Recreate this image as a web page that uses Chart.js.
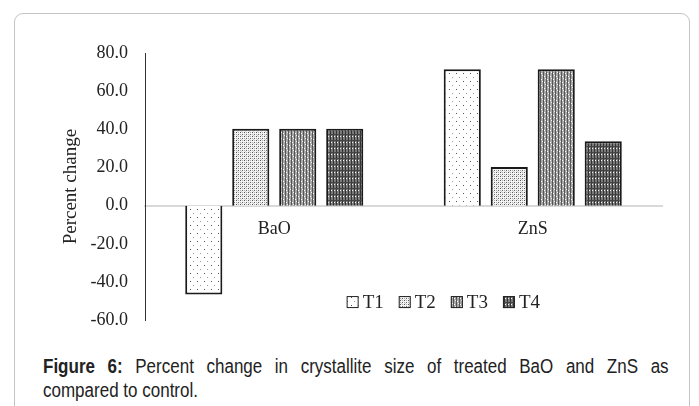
<!DOCTYPE html>
<html>
<head>
<meta charset="utf-8">
<script src="https://cdn.jsdelivr.net/npm/chart.js@4"></script>
<style>
  body { margin: 0; background: #fff; }
  #frame {
    position: absolute; left: 14px; top: 13px; width: 674px; height: 420px;
    border: 1px solid #c4c4c4; border-radius: 9px;
  }
  #wrap { position: absolute; left: 0; top: 0; width: 699px; height: 348px; }
  #caption {
    position: absolute; left: 43px; top: 354px; width: 736px;
    transform: scaleX(0.85); transform-origin: 0 0;
    font-family: "Liberation Sans", Arial, sans-serif;
    font-size: 20px; line-height: 24px; color: #222;
  }
  #caption .l1 { display: block; text-align: justify; text-align-last: justify; }
  #caption .l2 { display: block; }
</style>
</head>
<body>
<div id="frame"></div>
<div id="wrap"><canvas id="chart" width="699" height="348"></canvas></div>
<div id="caption"><span class="l1"><b>Figure 6:</b> Percent change in crystallite size of treated BaO and ZnS as</span><span class="l2">compared to control.</span></div>

<script>
// ---- DATA ----
const categories = ['BaO', 'ZnS'];
const seriesNames = ['T1', 'T2', 'T3', 'T4'];
const t1Values = [-46.5, 71.5];
const t2Values = [40.3, 20.3];
const t3Values = [40.3, 71.5];
const t4Values = [40.3, 33.8];
const yMin = -60;
const yMax = 80;
const yStep = 20;

// ---- PATTERNS ----
function makePattern(w, h, draw) {
  const c = document.createElement('canvas');
  c.width = w;
  c.height = h;
  const g = c.getContext('2d');
  draw(g);
  return g.createPattern(c, 'repeat');
}

function px(g, color, x, y) {
  g.fillStyle = color;
  g.fillRect(x, y, 1, 1);
}

// sparse dots
const patT1 = makePattern(7, 8, g => {
  g.fillStyle = '#fff'; g.fillRect(0, 0, 7, 8);
  px(g, '#555', 1, 1);
  px(g, '#999', 4, 5);
});

// fine stipple
const patT2 = makePattern(4, 4, g => {
  g.fillStyle = '#f4f4f4'; g.fillRect(0, 0, 4, 4);
  px(g, '#555', 0, 0);
  px(g, '#666', 2, 2);
  px(g, '#aaa', 2, 0);
  px(g, '#aaa', 0, 2);
  px(g, '#ccc', 1, 3);
});

// medium gray checker
const patT3 = makePattern(6, 6, g => {
  g.fillStyle = '#a8a8a8'; g.fillRect(0, 0, 6, 6);
  g.fillStyle = '#555'; g.fillRect(0, 0, 1, 6); g.fillRect(3, 0, 1, 6);
  px(g, '#fff', 1, 1); px(g, '#fff', 4, 4);
  px(g, '#eee', 2, 3); px(g, '#eee', 5, 0);
});

// darker plaid
const patT4 = makePattern(6, 6, g => {
  g.fillStyle = '#7a7a7a'; g.fillRect(0, 0, 6, 6);
  g.fillStyle = '#333'; g.fillRect(0, 0, 1, 6); g.fillRect(3, 0, 1, 6);
  g.fillStyle = '#444'; g.fillRect(0, 2, 6, 1);
  px(g, '#fff', 1, 4); px(g, '#eee', 4, 4);
});

const seriesValues = [t1Values, t2Values, t3Values, t4Values];
const seriesFills = [patT1, patT2, patT3, patT4];

const serif = '"Liberation Serif", "Times New Roman", serif';

// ---- LEGEND (inside plot area) ----
const innerLegend = {
  id: 'innerLegend',
  afterDraw(chart) {
    const ctx = chart.ctx;
    const area = chart.chartArea;
    const yScale = chart.scales.y;
    ctx.save();
    ctx.font = '19px ' + serif;
    ctx.textBaseline = 'middle';
    let x = area.left + (area.right - area.left) * 0.39;
    const cy = yScale.getPixelForValue(-50.5);
    chart.data.datasets.forEach(ds => {
      ctx.fillStyle = ds.backgroundColor;
      ctx.fillRect(x, cy - 6, 12, 12);
      ctx.strokeStyle = '#222';
      ctx.lineWidth = 1;
      ctx.strokeRect(x + 0.5, cy - 5.5, 11, 11);
      ctx.fillStyle = '#222';
      ctx.fillText(ds.label, x + 16, cy + 1);
      x += 16 + ctx.measureText(ds.label).width + 15;
    });
    ctx.restore();
  }
};

// ---- CHART ----
new Chart(document.getElementById('chart'), {
  type: 'bar',
  data: {
    labels: categories,
    datasets: seriesNames.map((name, i) => ({
      label: name,
      data: seriesValues[i],
      backgroundColor: seriesFills[i],
      borderColor: '#1a1a1a',
      borderWidth: 2,
      categoryPercentage: 0.727,
      barPercentage: 0.79
    }))
  },
  options: {
    responsive: false,
    animation: false,
    layout: { padding: { left: 0, right: 37, top: 53, bottom: 14 } },
    plugins: {
      legend: { display: false },
      tooltip: { enabled: false }
    },
    scales: {
      x: {
        position: { y: 0 },
        grid: { display: false, drawTicks: false },
        border: { display: true, color: '#d9d9d9', width: 2 },
        ticks: { color: '#222', font: { family: serif, size: 18 }, padding: 13 }
      },
      y: {
        min: yMin,
        max: yMax,
        afterFit(scale) { scale.width = 145; },
        grid: { display: false, drawTicks: false },
        border: { display: true, color: '#333', width: 1 },
        ticks: {
          stepSize: yStep,
          color: '#222',
          padding: 17,
          font: { family: serif, size: 18 },
          callback: v => Number(v).toFixed(1)
        },
        title: {
          display: true,
          text: 'Percent change',
          color: '#222',
          font: { family: serif, size: 19 },
          padding: { top: 60, bottom: 0 }
        }
      }
    }
  },
  plugins: [innerLegend]
});
</script>
</body>
</html>
